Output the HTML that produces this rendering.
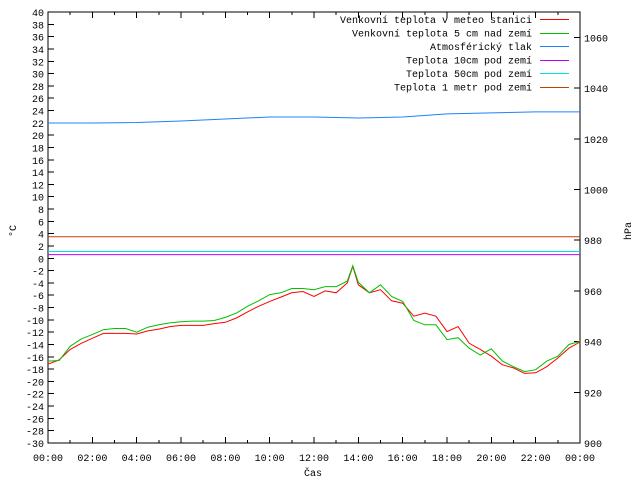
<!DOCTYPE html>
<html><head><meta charset="utf-8"><style>
body{margin:0;background:#fff}
svg{display:block;font-family:"Liberation Mono",monospace;font-size:10px}
.crisp{shape-rendering:crispEdges}
</style></head><body>
<svg id="c" width="640" height="480"></svg>
<script>
const hours=[0,0.5,1,1.5,2,2.5,3,3.5,4,4.5,5,5.5,6,6.5,7,7.5,8,8.5,9,9.5,10,10.5,11,11.5,12,12.5,13,13.5,13.75,14,14.5,15,15.5,16,16.5,17,17.5,18,18.5,19,19.5,20,20.5,21,21.5,22,22.5,23,23.5,24];
const redTemp=[-17.2,-16.5,-14.8,-13.8,-13,-12.2,-12.2,-12.2,-12.3,-11.8,-11.5,-11.1,-10.9,-10.9,-10.9,-10.6,-10.4,-9.7,-8.7,-7.8,-7.0,-6.3,-5.6,-5.4,-6.2,-5.3,-5.6,-4.0,-1.3,-4.3,-5.6,-5.1,-6.9,-7.3,-9.4,-8.9,-9.4,-11.9,-11.1,-13.8,-14.8,-15.9,-17.3,-17.8,-18.7,-18.6,-17.6,-16.2,-14.6,-13.6];
const greenTemp=[-16.7,-16.6,-14.3,-13.1,-12.4,-11.6,-11.4,-11.4,-12.0,-11.2,-10.8,-10.5,-10.3,-10.2,-10.2,-10.1,-9.6,-8.9,-7.8,-6.9,-5.9,-5.6,-4.9,-4.9,-5.1,-4.6,-4.6,-3.7,-1.2,-3.9,-5.6,-4.3,-6.2,-7.0,-10.1,-10.8,-10.8,-13.2,-12.9,-14.6,-15.7,-14.7,-16.7,-17.6,-18.4,-18.1,-16.7,-15.9,-14.0,-13.5];
const pressHours=[0,2,4,6,8,10,12,14,16,18,20,22,24];
const pressure=[1026.2,1026.2,1026.4,1027.0,1027.8,1028.6,1028.6,1028.2,1028.6,1029.8,1030.2,1030.6,1030.6];
const soil10=[0.6,0.6];
const soil50=[1.1,1.1];
const soil100=[3.5,3.5];
const yTicks=[40,38,36,34,32,30,28,26,24,22,20,18,16,14,12,10,8,6,4,2,0,-2,-4,-6,-8,-10,-12,-14,-16,-18,-20,-22,-24,-26,-28,-30];
const y2Ticks=[900,920,940,960,980,1000,1020,1040,1060];
const xTickLabels=["00:00","02:00","04:00","06:00","08:00","10:00","12:00","14:00","16:00","18:00","20:00","22:00","00:00"];
const L=48,R=580,T=12,B=443;
const X=h=>L+(R-L)*h/24;
const Y=t=>B-(B-T)*(t+30)/70;
const Y2=p=>B-(B-T)*(p-900)/170;
const svg=document.getElementById('c');
const NS='http://www.w3.org/2000/svg';
function mk(tag,attrs,parent){const e=document.createElementNS(NS,tag);for(const k in attrs)e.setAttribute(k,attrs[k]);(parent||svg).appendChild(e);return e;}
function txt(x,y,s,anchor,name){const e=mk('text',{x:x,y:y,'text-anchor':anchor,fill:'#000'});e.textContent=s;


return e;}
yTicks.forEach(t=>{const y=Y(t);
mk('line',{x1:L,y1:y,x2:L+6,y2:y,stroke:'#000',class:'crisp'});
txt(L-4,y+4,String(t),'end','y-tick-label');});
y2Ticks.forEach(p=>{const y=Y2(p);
mk('line',{x1:R,y1:y,x2:R-6,y2:y,stroke:'#000',class:'crisp'});
txt(R+4,y+4,String(p),'start','y2-tick-label');});
for(let h=0;h<=24;h++){const x=X(h),len=h%2?3:6;
mk('line',{x1:x,y1:B,x2:x,y2:B-len,stroke:'#000',class:'crisp'});
mk('line',{x1:x,y1:T,x2:x,y2:T+len,stroke:'#000',class:'crisp'});}
xTickLabels.forEach((s,i)=>txt(X(i*2),B+18,s,'middle','x-tick-label'));
const frame=mk('rect',{x:L,y:T,width:R-L,height:B-T,fill:'none',stroke:'#000',class:'crisp'});


txt(313,476,'Čas','middle','x-axis-title');
const yl=txt(16,231,'°C','middle','y-axis-title');yl.setAttribute('transform','rotate(-90 16 231)');
const yr=txt(631,231,'hPa','middle','y2-axis-title');yr.setAttribute('transform','rotate(-90 631 231)');
function series(xs,ys,yf,color,name){const pts=xs.map((h,i)=>X(h).toFixed(1)+','+yf(ys[i]).toFixed(1)).join(' ');
const p=mk('polyline',{points:pts,fill:'none',stroke:color,'stroke-width':1});

}
series([0,24],soil100,Y,'#c04000','series-soil-1m');
series([0,24],soil50,Y,'#00e0e0','series-soil-50cm');
series([0,24],soil10,Y,'#c000ff','series-soil-10cm');
series(pressHours,pressure,Y2,'#2080ff','series-pressure');
series(hours,redTemp,Y,'#ff0000','series-station-temp');
series(hours,greenTemp,Y,'#00c000','series-ground-5cm-temp');
const legend=[["Venkovní teplota v meteo stanici","#ff0000"],["Venkovní teplota 5 cm nad zemí","#00c000"],["Atmosférický tlak","#2080ff"],["Teplota 10cm pod zemí","#c000ff"],["Teplota 50cm pod zemí","#00e0e0"],["Teplota 1 metr pod zemí","#c04000"]];
legend.forEach((l,i)=>{const y=23+i*13.5;
txt(532,y,l[0],'end','legend-entry');
const ly=Math.round(y-4)+0.5;
const ln=mk('line',{x1:540,y1:ly,x2:569,y2:ly,stroke:l[1],class:'crisp'});

});
</script>
</body></html>
